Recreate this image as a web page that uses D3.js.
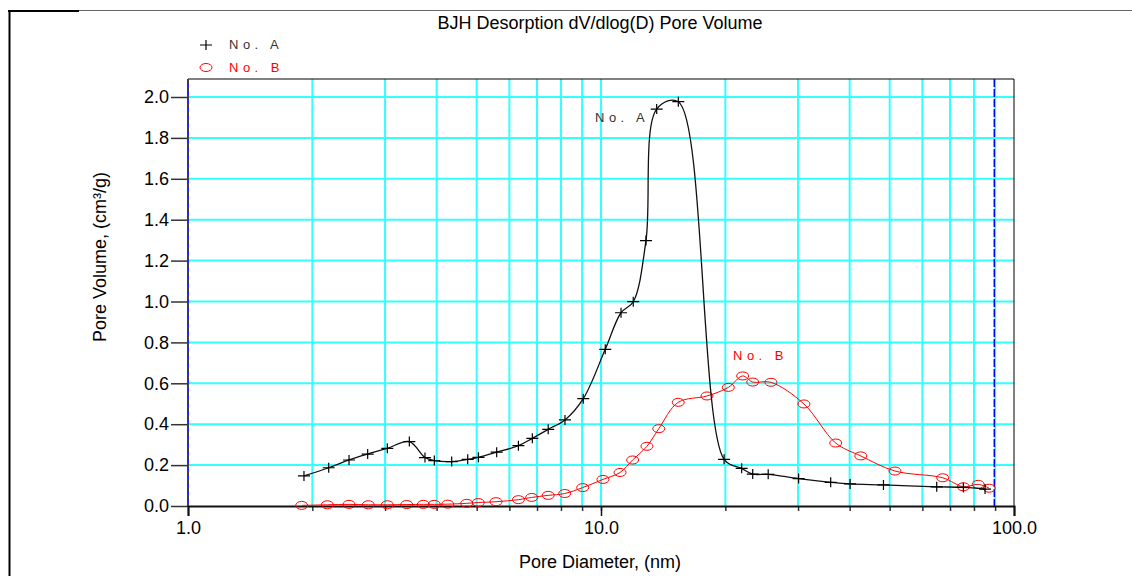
<!DOCTYPE html>
<meta charset="utf-8">
<style>
body { margin: 0; background: #fff; }
svg { display: block; font-family: "Liberation Sans", Arial, sans-serif; }
</style>
<body>
<script src="https://d3js.org/d3.v7.min.js"></script>
<script>

// series No. A : pore diameter (nm) / dV/dlog(D) (cm3/g)
var diamA = [1.909, 2.191, 2.454, 2.723, 3.038, 3.435, 3.748, 3.948, 4.35, 4.756,
             5.05, 5.59, 6.31, 6.82, 7.45, 8.18, 9.06, 10.24, 11.18, 11.97,
             12.85, 13.64, 15.39, 19.86, 21.91, 23.3, 25.4, 30.1, 35.99, 40.1,
             48.3, 65.0, 75.4, 85.1];
var volA  = [0.147, 0.187, 0.225, 0.254, 0.282, 0.315, 0.237, 0.222, 0.217, 0.228,
             0.238, 0.263, 0.295, 0.331, 0.375, 0.421, 0.525, 0.766, 0.945, 0.999,
             1.298, 1.941, 1.977, 0.228, 0.184, 0.156, 0.155, 0.134, 0.116, 0.108,
             0.103, 0.094, 0.091, 0.083];

// series No. B
var diamB = [1.885, 2.175, 2.454, 2.733, 3.038, 3.385, 3.713, 3.948, 4.254, 4.73,
             5.045, 5.569, 6.31, 6.795, 7.45, 8.17, 9.03, 10.11, 11.12, 11.93,
             12.92, 13.8, 15.38, 18.06, 20.34, 22.03, 23.3, 25.79, 31.0, 37.01,
             42.55, 51.5, 67.2, 75.4, 81.9, 87.1];
var volB  = [0.003, 0.006, 0.008, 0.006, 0.006, 0.007, 0.008, 0.008, 0.009, 0.013,
             0.017, 0.021, 0.031, 0.042, 0.052, 0.061, 0.09, 0.13, 0.164, 0.225,
             0.292, 0.378, 0.507, 0.538, 0.58, 0.636, 0.606, 0.605, 0.499, 0.308,
             0.245, 0.171, 0.138, 0.094, 0.106, 0.087];

var seriesNames = ["No. A", "No. B"];
var xMajorTicks = [1, 10, 100];
var xTickLabels = ["1.0", "10.0", "100.0"];
var xMinorTicks = [2, 3, 4, 5, 6, 7, 8, 9, 10, 20, 30, 40, 50, 60, 70, 80, 90];
var yTicks = [0, 0.2, 0.4, 0.6, 0.8, 1.0, 1.2, 1.4, 1.6, 1.8, 2.0];
var maxDiam = 89.6;

var width = 1132, height = 576,
    plotTop = 79;

var svg = d3.select("body").append("svg")
    .attr("width", width)
    .attr("height", height);

var x = d3.scaleLog().domain([1, 100]).range([188, 1014]);
var y = d3.scaleLinear().domain([0, 2]).range([506, 97]);

// outer frame
svg.append("line").attr("x1", 8).attr("x2", width).attr("y1", 10.5).attr("y2", 10.5)
    .attr("stroke", "#666").attr("stroke-width", 1);
svg.append("line").attr("x1", 8).attr("x2", 79).attr("y1", 11).attr("y2", 11)
    .attr("stroke", "#000").attr("stroke-width", 2);
svg.append("line").attr("x1", 9.5).attr("x2", 9.5).attr("y1", 10).attr("y2", height)
    .attr("stroke", "#000").attr("stroke-width", 2);

// grid
svg.append("g").selectAll("line")
    .data(yTicks.slice(1))
  .enter().append("line")
    .attr("x1", x(1)).attr("x2", x(100))
    .attr("y1", function(d) { return y(d); })
    .attr("y2", function(d) { return y(d); })
    .attr("stroke", "#3ff").attr("stroke-width", 2);

svg.append("g").selectAll("line")
    .data(xMinorTicks)
  .enter().append("line")
    .attr("x1", function(d) { return x(d); })
    .attr("x2", function(d) { return x(d); })
    .attr("y1", plotTop).attr("y2", y(0))
    .attr("stroke", "#3ff").attr("stroke-width", 2);

// plot box
svg.append("line").attr("x1", x(1)).attr("x2", x(100)).attr("y1", plotTop).attr("y2", plotTop)
    .attr("stroke", "#000").attr("stroke-width", 1);
svg.append("line").attr("x1", x(100)).attr("x2", x(100)).attr("y1", plotTop).attr("y2", y(0))
    .attr("stroke", "#000").attr("stroke-width", 1);

// y axis
var yAxis = svg.append("g")
    .attr("transform", "translate(" + x(1) + ",0)")
    .call(d3.axisLeft(y).tickValues(yTicks).tickFormat(d3.format(".1f"))
      .tickSize(17).tickPadding(2));
yAxis.select(".domain").remove();
yAxis.selectAll(".tick line").attr("stroke", "#333").attr("stroke-width", 1.5);
yAxis.selectAll("text").attr("font-size", 18).attr("fill", "#000")
    .attr("font-family", "Liberation Sans, Arial, sans-serif");

svg.append("line").attr("x1", x(1)).attr("x2", x(1)).attr("y1", plotTop).attr("y2", y(0))
    .attr("stroke", "#22f").attr("stroke-width", 2);
svg.append("line").attr("x1", x(1) + 0.5).attr("x2", x(1) + 0.5).attr("y1", plotTop).attr("y2", y(0))
    .attr("stroke", "#444").attr("stroke-width", 1).attr("stroke-dasharray", "4,4");

// max diameter marker
svg.append("line").attr("x1", x(maxDiam)).attr("x2", x(maxDiam)).attr("y1", plotTop).attr("y2", y(0))
    .attr("stroke", "#00f").attr("stroke-width", 1.5).attr("stroke-dasharray", "8,2");

// x axis
var xMinor = svg.append("g")
    .attr("transform", "translate(0," + y(0) + ")")
    .call(d3.axisBottom(x).tickValues(xMinorTicks).tickFormat("").tickSize(5));
xMinor.select(".domain").remove();
xMinor.selectAll(".tick line").attr("stroke", "#333").attr("stroke-width", 1.5);

var xAxis = svg.append("g")
    .attr("transform", "translate(0," + y(0) + ")")
    .call(d3.axisBottom(x).tickValues(xMajorTicks)
      .tickFormat(function(d, i) { return xTickLabels[i]; })
      .tickSize(10).tickPadding(5));
xAxis.select(".domain").attr("stroke", "#111").attr("stroke-width", 2);
xAxis.selectAll(".tick line").attr("stroke", "#111").attr("stroke-width", 1.5);
xAxis.selectAll("text").attr("font-size", 18).attr("fill", "#000")
    .attr("font-family", "Liberation Sans, Arial, sans-serif");

// titles
svg.append("text")
    .attr("x", 600).attr("y", 29)
    .attr("text-anchor", "middle")
    .attr("font-size", 18)
    .text("BJH Desorption dV/dlog(D) Pore Volume");

svg.append("text")
    .attr("x", 600).attr("y", 568)
    .attr("text-anchor", "middle")
    .attr("font-size", 18)
    .text("Pore Diameter, (nm)");

svg.append("text")
    .attr("transform", "translate(106,257) rotate(-90)")
    .attr("text-anchor", "middle")
    .attr("font-size", 18)
    .text("Pore Volume, (cm³/g)");

// curves
var line = d3.line()
    .x(function(d) { return x(d[0]); })
    .y(function(d) { return y(d[1]); })
    .curve(d3.curveCatmullRom.alpha(0.5));

var dataA = d3.zip(diamA, volA),
    dataB = d3.zip(diamB, volB);

svg.append("path")
    .attr("d", line(dataB))
    .attr("fill", "none")
    .attr("stroke", "#f00")
    .attr("stroke-width", 1);

svg.append("g").selectAll("ellipse")
    .data(dataB)
  .enter().append("ellipse")
    .attr("cx", function(d) { return x(d[0]); })
    .attr("cy", function(d) { return y(d[1]); })
    .attr("rx", 6).attr("ry", 4)
    .attr("fill", "none")
    .attr("stroke", "#f00")
    .attr("stroke-width", 1);

svg.append("path")
    .attr("d", line(dataA))
    .attr("fill", "none")
    .attr("stroke", "#111")
    .attr("stroke-width", 1.3);

var plus = "M-6,0H6M0,-5V5";
svg.append("g").selectAll("path")
    .data(dataA)
  .enter().append("path")
    .attr("transform", function(d) { return "translate(" + x(d[0]) + "," + y(d[1]) + ")"; })
    .attr("d", plus)
    .attr("stroke", "#000")
    .attr("stroke-width", 1.2);

// curve labels
svg.append("text")
    .attr("x", 595).attr("y", 122)
    .attr("font-size", 13).attr("letter-spacing", 4.5)
    .attr("fill", "#333")
    .text(seriesNames[0]);
svg.append("text")
    .attr("x", 733).attr("y", 360)
    .attr("font-size", 13).attr("letter-spacing", 4.5)
    .attr("fill", "#f00")
    .text(seriesNames[1]);

// legend
var legend = svg.append("g");
legend.append("path")
    .attr("transform", "translate(206,45)")
    .attr("d", plus)
    .attr("stroke", "#000")
    .attr("stroke-width", 1.2);
legend.append("text")
    .attr("x", 229).attr("y", 48.5)
    .attr("font-size", 13).attr("letter-spacing", 4.5)
    .attr("fill", "#333")
    .text(seriesNames[0]);
legend.append("ellipse")
    .attr("cx", 206).attr("cy", 67.5)
    .attr("rx", 6).attr("ry", 4)
    .attr("fill", "none")
    .attr("stroke", "#f00");
legend.append("text")
    .attr("x", 229).attr("y", 71.5)
    .attr("font-size", 13).attr("letter-spacing", 4.5)
    .attr("fill", "#f00")
    .text(seriesNames[1]);

</script>
